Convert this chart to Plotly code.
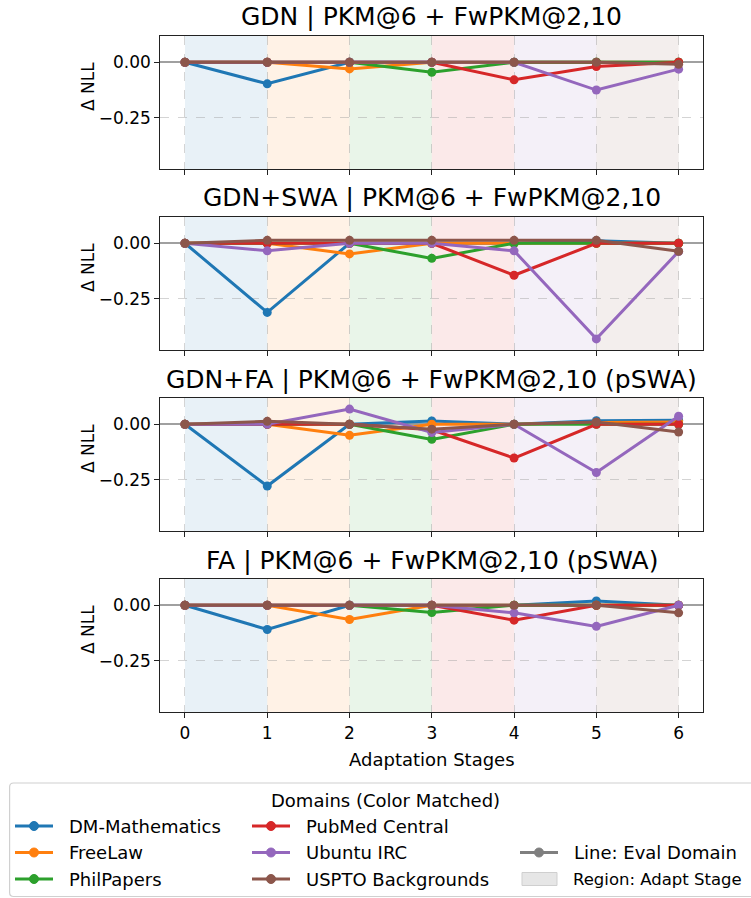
import plotly.graph_objects as go

# ---- data -------------------------------------------------------------
stages = [0, 1, 2, 3, 4, 5, 6]
stage_labels = ["0", "1", "2", "3", "4", "5", "6"]
domains = ["DM-Mathematics", "FreeLaw", "PhilPapers",
           "PubMed Central", "Ubuntu IRC", "USPTO Backgrounds"]
colors = ["#1f77b4", "#ff7f0e", "#2ca02c", "#d62728", "#9467bd", "#8c564b"]

panel_titles = [
    "GDN | PKM@6 + FwPKM@2,10",
    "GDN+SWA | PKM@6 + FwPKM@2,10",
    "GDN+FA | PKM@6 + FwPKM@2,10 (pSWA)",
    "FA | PKM@6 + FwPKM@2,10 (pSWA)",
]

# delta NLL per eval domain (rows follow `domains`), one value per stage
gdn = [
    [0, -0.097, 0, 0, 0, 0, 0],
    [0, 0, -0.030, 0, 0, 0, 0],
    [0, 0, 0, -0.045, 0, 0, 0],
    [0, 0, 0, 0, -0.079, -0.019, 0],
    [0, 0, 0, 0, 0, -0.125, -0.031],
    [0, 0, 0, 0, 0, 0, -0.009],
]
gdn_swa = [
    [0, -0.311, 0, 0, 0, 0.011, 0],
    [0, 0, -0.048, 0, 0, 0, 0],
    [0, 0, 0, -0.068, 0, 0, 0],
    [0, 0, 0, 0, -0.144, 0, 0],
    [0, -0.034, 0, 0, -0.034, -0.430, -0.037],
    [0, 0.013, 0.013, 0.013, 0.013, 0.013, -0.036],
]
gdn_fa = [
    [0, -0.278, 0, 0.015, 0, 0.016, 0.018],
    [0, 0, -0.050, 0, 0, 0.008, 0.010],
    [0, 0, 0, -0.068, 0, 0, 0],
    [0, 0, 0, -0.025, -0.152, 0, 0],
    [0, 0, 0.068, -0.037, 0, -0.217, 0.036],
    [0, 0.013, 0, -0.022, 0, 0.010, -0.035],
]
fa = [
    [0, -0.109, 0, 0, 0, 0.019, 0],
    [0, 0, -0.064, 0, 0, 0, 0],
    [0, 0, 0, -0.033, 0, 0, 0],
    [0, 0, 0, 0, -0.067, 0, 0],
    [0, 0, 0, 0, -0.034, -0.095, 0],
    [0, 0, 0, 0, 0, 0, -0.034],
]
panel_values = [gdn, gdn_swa, gdn_fa, fa]

y_ticks = [0, -0.25]
y_range = [-0.48, 0.118]
x_range = [-0.3, 6.3]

# ---- geometry helpers (pixel -> paper) --------------------------------
W, H = 751, 898
FONT = "DejaVu Sans"


def fx(p):
    return p / W


def fy(p):
    return 1 - p / H


x_dom = [fx(160.3), fx(703.3)]
panel_top = [36 + 181 * k for k in range(4)]
panel_h = 133

fig = go.Figure()
layout = {}
shapes = []
annotations = []

for k, (title, vals) in enumerate(zip(panel_titles, panel_values)):
    sfx = "" if k == 0 else str(k + 1)
    xa, ya = "x" + sfx, "y" + sfx
    top = panel_top[k]
    bottom = top + panel_h

    for d, name in enumerate(domains):
        fig.add_trace(go.Scatter(
            x=stages, y=vals[d], name=name, mode="lines+markers",
            line=dict(color=colors[d], width=3),
            marker=dict(color=colors[d], size=9),
            xaxis=xa, yaxis=ya, showlegend=False,
        ))

    # shaded region for each adaptation stage, coloured by its domain
    for i in range(len(stages) - 1):
        shapes.append(dict(
            type="rect", xref=xa, yref=ya + " domain",
            x0=stages[i], x1=stages[i + 1], y0=0, y1=1,
            fillcolor=colors[i], opacity=0.1, line=dict(width=0),
            layer="below",
        ))

    layout["xaxis" + sfx] = dict(
        domain=x_dom, anchor=ya, range=x_range,
        tickvals=stages, ticktext=stage_labels,
        showticklabels=(k == 3),
        ticks="outside", ticklen=5, tickwidth=1, tickcolor="#222",
        showline=True, mirror=True, linecolor="#222", linewidth=1.2,
        showgrid=True, gridcolor="rgba(160,160,160,0.45)", griddash="dash",
        gridwidth=1, zeroline=False,
        tickfont=dict(family=FONT, size=17, color="#000"),
        **({} if k == 0 else {"matches": "x"}),
    )
    layout["yaxis" + sfx] = dict(
        domain=[fy(bottom), fy(top)], anchor=xa, range=y_range,
        tickvals=y_ticks, tickformat=".2f",
        ticks="outside", ticklen=5, tickwidth=1, tickcolor="#222",
        showline=True, mirror=True, linecolor="#222", linewidth=1.2,
        showgrid=True, gridcolor="rgba(160,160,160,0.45)", griddash="dash",
        gridwidth=1,
        zeroline=True, zerolinecolor="rgba(128,128,128,0.75)", zerolinewidth=1.5,
        tickfont=dict(family=FONT, size=17, color="#000"),
    )

    annotations.append(dict(
        text=title, xref="paper", yref="paper",
        x=(x_dom[0] + x_dom[1]) / 2, y=fy(top - 19),
        xanchor="center", yanchor="middle", showarrow=False,
        font=dict(family=FONT, size=25, color="#000"),
    ))
    annotations.append(dict(
        text="Δ NLL", xref="paper", yref="paper",
        x=fx(88), y=fy(top + 51), textangle=-90,
        xanchor="center", yanchor="middle", showarrow=False,
        font=dict(family=FONT, size=17, color="#000"),
    ))

annotations.append(dict(
    text="Adaptation Stages", xref="paper", yref="paper",
    x=(x_dom[0] + x_dom[1]) / 2, y=fy(759),
    xanchor="center", yanchor="middle", showarrow=False,
    font=dict(family=FONT, size=18, color="#000"),
))

# ---- legend (three columns, drawn with shapes and text) ----------------
lx0, lx1, ly0, ly1, r = 9.6, 770, 783, 896.5, 4
shapes.append(dict(
    type="path", xref="paper", yref="paper",
    path=(f"M {fx(lx0 + r)},{fy(ly0)} L {fx(lx1)},{fy(ly0)} "
          f"L {fx(lx1)},{fy(ly1)} L {fx(lx0 + r)},{fy(ly1)} "
          f"Q {fx(lx0)},{fy(ly1)} {fx(lx0)},{fy(ly1 - r)} "
          f"L {fx(lx0)},{fy(ly0 + r)} Q {fx(lx0)},{fy(ly0)} {fx(lx0 + r)},{fy(ly0)} Z"),
    fillcolor="rgba(255,255,255,0.9)", line=dict(color="#d0d0d0", width=1.2),
    layer="above",
))
annotations.append(dict(
    text="Domains (Color Matched)", xref="paper", yref="paper",
    x=fx(385.5), y=fy(800), xanchor="center", yanchor="middle",
    showarrow=False, font=dict(family=FONT, size=18, color="#000"),
))

row_y = [826, 852.5, 879]
col_x = [15, 252, 520]
text_dx = 52


def legend_line(x, y, color, label, size=18):
    shapes.append(dict(
        type="line", xref="paper", yref="paper",
        x0=fx(x), x1=fx(x + 38), y0=fy(y), y1=fy(y),
        line=dict(color=color, width=3), layer="above",
    ))
    cx, rr = x + 19, 4.5
    shapes.append(dict(
        type="circle", xref="paper", yref="paper",
        x0=fx(cx - rr), x1=fx(cx + rr), y0=fy(y + rr), y1=fy(y - rr),
        fillcolor=color, line=dict(color=color, width=1), layer="above",
    ))
    annotations.append(dict(
        text=label, xref="paper", yref="paper", x=fx(x + text_dx), y=fy(y),
        xanchor="left", yanchor="middle", showarrow=False,
        font=dict(family=FONT, size=size, color="#000"),
    ))


for d, name in enumerate(domains):
    legend_line(col_x[d // 3], row_y[d % 3], colors[d], name)

legend_line(col_x[2], row_y[1], "#7f7f7f", "Line: Eval Domain")

shapes.append(dict(
    type="rect", xref="paper", yref="paper",
    x0=fx(col_x[2] + 2), x1=fx(col_x[2] + 37),
    y0=fy(row_y[2] + 6.5), y1=fy(row_y[2] - 6.5),
    fillcolor="#e6e6e6", line=dict(color="#cfcfcf", width=1), layer="above",
))
annotations.append(dict(
    text="Region: Adapt Stage", xref="paper", yref="paper",
    x=fx(col_x[2] + text_dx - 1), y=fy(row_y[2]),
    xanchor="left", yanchor="middle", showarrow=False,
    font=dict(family=FONT, size=16.5, color="#000"),
))

fig.update_layout(
    width=W, height=H,
    margin=dict(l=0, r=0, t=0, b=0),
    paper_bgcolor="white", plot_bgcolor="white",
    showlegend=False,
    shapes=shapes, annotations=annotations,
    font=dict(family=FONT, color="#000"),
    **layout,
)

fig.write_html("out.html")
